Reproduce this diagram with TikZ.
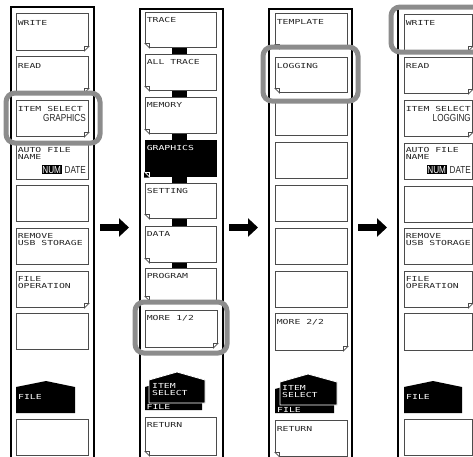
\documentclass[tikz,border=0pt]{standalone}
\usepackage{fontspec}
\usetikzlibrary{arrows.meta}
\newfontfamily\lcdfont[FakeStretch=1.42]{DejaVu Sans Mono}
\newfontfamily\bigfont[FakeStretch=0.8]{Liberation Sans}
\definecolor{hlgray}{RGB}{140,140,140}
\definecolor{btnedge}{RGB}{75,75,75}
\tikzset{
  btn/.style={draw=btnedge, line width=0.9pt, fill=white, rectangle, anchor=north west, inner sep=0pt},
  darkbtn/.style={btn, fill=black, draw=black},
  lbl/.style={anchor=north west, inner sep=0pt, align=left, text=black!85,
    font=\lcdfont\fontsize{6.9}{7}\selectfont},
  wlbl/.style={lbl, text=white},
  big/.style={inner sep=0pt, font=\bigfont\fontsize{10.2}{11}\selectfont, text=black!85},
  inv/.style={big, fill=black, text=white, inner xsep=0.8pt, inner ysep=0.8pt},
  frame/.style={draw=black, line width=1.3pt},
  hilite/.style={draw=hlgray, line width=5pt, rounded corners=9pt},
  tabshape/.style={fill=black},
  bridge/.style={fill=black},
  bigarrow/.style={draw=black, line width=7pt, -{Triangle[length=10pt,width=18pt]}},
}
\newcommand\Btn[6][btn]{\node[#1, minimum width=#5pt, minimum height=#6pt] (#2) at (#3,#4) {};}
\newcommand\Lbl[3][6]{\node[lbl] (#2-t) at ([xshift=1.6pt,yshift=-#1pt]#2.north west) {#3};}
\newcommand\WLbl[3][6]{\node[wlbl] (#2-t) at ([xshift=1.6pt,yshift=-#1pt]#2.north west) {#3};}
\newcommand\FoldBR[3]{%
  \fill[#2] ([xshift=-5.2pt,yshift=-0.8pt]#1.south east) -- ([xshift=0.8pt,yshift=-0.8pt]#1.south east) -- ([xshift=0.8pt,yshift=5.2pt]#1.south east) -- cycle;
  \draw[#3, line width=0.7pt] ([yshift=4.5pt]#1.south east) -- ([xshift=-4.5pt]#1.south east) -- ([xshift=-4.5pt,yshift=4.5pt]#1.south east) -- cycle;}
\newcommand\FoldBL[3]{%
  \fill[#2] ([xshift=5.2pt,yshift=-0.8pt]#1.south west) -- ([xshift=-0.8pt,yshift=-0.8pt]#1.south west) -- ([xshift=-0.8pt,yshift=5.2pt]#1.south west) -- cycle;
  \draw[#3, line width=0.7pt] ([yshift=4.5pt]#1.south west) -- ([xshift=4.5pt]#1.south west) -- ([xshift=4.5pt,yshift=4.5pt]#1.south west) -- cycle;}
\begin{document}
\begin{tikzpicture}[x=1pt,y=-1pt]
\useasboundingbox (0,0) rectangle (473,456);
\clip (0,0) rectangle (473,456);
\fill[white] (0,0) rectangle (473,456);

% ---------------- frames
\draw[frame] (11,7) rectangle (94,470);
\draw[frame] (140,9) rectangle (223,470);
\draw[frame] (269,9) rectangle (352,470);
\draw[frame] (398,7) rectangle (490,470);

% ---------------- panel 1
\Btn{p1a}{16}{13}{72}{37} \Lbl[7]{p1a}{WRITE} \FoldBR{p1a}{white}{btnedge}
\Btn{p1b}{16}{56}{72}{36} \Lbl[7]{p1b}{READ} \FoldBR{p1b}{white}{btnedge}
\Btn{p1c}{16}{100}{72}{36} \Lbl{p1c}{ITEM SELECT} \FoldBR{p1c}{white}{btnedge}
\node[big, anchor=base east] (p1cv) at (86,121) {GRAPHICS};
\Btn{p1d}{16}{143}{72}{36} \Lbl[4.5]{p1d}{AUTO FILE\\NAME}
\node[big, anchor=base east] (p1dd) at (86,173) {DATE};
\node[inv, anchor=base east] (p1dn) at ([xshift=-2.5pt]p1dd.base west) {NUM};
\Btn{p1e}{16}{185}{72}{36}
\Btn{p1f}{16}{228}{72}{36} \Lbl[5]{p1f}{REMOVE\\USB STORAGE}
\Btn{p1g}{16}{271}{72}{36} \Lbl[5.5]{p1g}{FILE\\OPERATION} \FoldBR{p1g}{white}{btnedge}
\Btn{p1h}{16}{313}{72}{36}
\fill[tabshape] (16,387) -- (46,381) -- (75,387) -- (75,413) -- (16,413) -- cycle;
\node[wlbl] (p1tab) at (18,394) {FILE};
\Btn{p1i}{16}{419}{72}{36}

% ---------------- panel 2
\Btn{p2a}{145}{12}{71}{35} \Lbl[5.5]{p2a}{TRACE} \FoldBL{p2a}{white}{btnedge}
\Btn{p2b}{145}{54}{71}{36} \Lbl[5.5]{p2b}{ALL TRACE} \FoldBL{p2b}{white}{btnedge}
\Btn{p2c}{145}{97}{71}{36} \Lbl[5.5]{p2c}{MEMORY} \FoldBL{p2c}{white}{btnedge}
\Btn[darkbtn]{p2d}{145}{140}{71}{36} \WLbl[5.5]{p2d}{GRAPHICS} \FoldBL{p2d}{black}{white}
\Btn{p2e}{145}{183}{71}{35} \Lbl[5.5]{p2e}{SETTING} \FoldBL{p2e}{white}{btnedge}
\Btn{p2f}{145}{226}{71}{36} \Lbl[5.5]{p2f}{DATA} \FoldBL{p2f}{white}{btnedge}
\Btn{p2g}{145}{268}{71}{32} \Lbl[5.5]{p2g}{PROGRAM} \FoldBL{p2g}{white}{btnedge}
\Btn{p2h}{145}{310}{72}{37} \Lbl[5.5]{p2h}{MORE 1/2} \FoldBR{p2h}{white}{btnedge}
\foreach \u/\v in {p2a/p2b,p2b/p2c,p2c/p2d,p2d/p2e,p2e/p2f,p2f/p2g}
  \fill[bridge] ([xshift=-8.5pt]\u.south) rectangle ([xshift=6.5pt]\v.north);
\fill[tabshape] (145,387) -- (173,379) -- (202,387) -- (202,410) -- (145,410) -- cycle;
\node[wlbl] (p2tabb) at (146.5,404) {FILE};
\filldraw[tabshape, draw=white, line width=0.8pt] (149,380) -- (177,372) -- (205,380) -- (205,403) -- (149,403) -- cycle;
\node[wlbl] (p2tabf) at (152,383) {ITEM\\SELECT};
\Btn{p2i}{145}{417}{71}{38} \Lbl[5.5]{p2i}{RETURN} \FoldBL{p2i}{white}{btnedge}

% ---------------- panel 3
\Btn{p3a}{275}{13}{72}{35} \Lbl[6.5]{p3a}{TEMPLATE} \FoldBL{p3a}{white}{btnedge}
\Btn{p3b}{275}{57}{72}{35} \Lbl[6.5]{p3b}{LOGGING} \FoldBL{p3b}{white}{btnedge}
\Btn{p3c}{275}{99}{72}{36}
\Btn{p3d}{275}{142}{72}{36}
\Btn{p3e}{275}{185}{72}{36}
\Btn{p3f}{275}{228}{72}{36}
\Btn{p3g}{275}{271}{72}{36}
\Btn{p3h}{275}{313}{72}{37} \Lbl[6]{p3h}{MORE 2/2} \FoldBR{p3h}{white}{btnedge}
\fill[tabshape] (275,389) -- (304,381) -- (334,389) -- (334,413) -- (275,413) -- cycle;
\node[wlbl] (p3tabb) at (277,407) {FILE};
\filldraw[tabshape, draw=white, line width=0.8pt] (280,382) -- (308,374) -- (337,382) -- (337,405) -- (280,405) -- cycle;
\node[wlbl] (p3tabf) at (282,385) {ITEM\\SELECT};
\Btn{p3i}{275}{420}{72}{36} \Lbl[6]{p3i}{RETURN} \FoldBL{p3i}{white}{btnedge}

% ---------------- panel 4
\Btn{p4a}{404}{14}{68}{36} \Lbl[6.5]{p4a}{WRITE} \FoldBR{p4a}{white}{btnedge}
\Btn{p4b}{404}{57}{68}{36} \Lbl[6.5]{p4b}{READ} \FoldBR{p4b}{white}{btnedge}
\Btn{p4c}{404}{100}{68}{36} \Lbl{p4c}{ITEM SELECT} \FoldBR{p4c}{white}{btnedge}
\node[big, anchor=base east] (p4cv) at (471,121) {LOGGING};
\Btn{p4d}{404}{143}{68}{36} \Lbl[4.5]{p4d}{AUTO FILE\\NAME}
\node[big, anchor=base east] (p4dd) at (471,173) {DATE};
\node[inv, anchor=base east] (p4dn) at ([xshift=-2.5pt]p4dd.base west) {NUM};
\Btn{p4e}{404}{186}{68}{36}
\Btn{p4f}{404}{228}{68}{36} \Lbl[5]{p4f}{REMOVE\\USB STORAGE}
\Btn{p4g}{404}{271}{68}{36} \Lbl[5.5]{p4g}{FILE\\OPERATION} \FoldBR{p4g}{white}{btnedge}
\Btn{p4h}{404}{313}{68}{37}
\fill[tabshape] (404,387) -- (433,381) -- (462,387) -- (462,413) -- (404,413) -- cycle;
\node[wlbl] (p4tab) at (406,394) {FILE};
\Btn{p4i}{404}{419}{68}{36}

% ---------------- highlights
\draw[hilite] (6,93) rectangle (100,143);
\draw[hilite] (135,302) rectangle (227,353);
\draw[hilite] (263,47) rectangle (358,101);
\draw[hilite] (391,7) rectangle (482,52);

% ---------------- arrows
\coordinate (a1s) at (100,227.5); \coordinate (a1e) at (129,227.5);
\coordinate (a2s) at (229,227.5); \coordinate (a2e) at (258,227.5);
\coordinate (a3s) at (358,227.5); \coordinate (a3e) at (387,227.5);
\draw[bigarrow] (a1s) -- (a1e);
\draw[bigarrow] (a2s) -- (a2e);
\draw[bigarrow] (a3s) -- (a3e);
\end{tikzpicture}
\end{document}
